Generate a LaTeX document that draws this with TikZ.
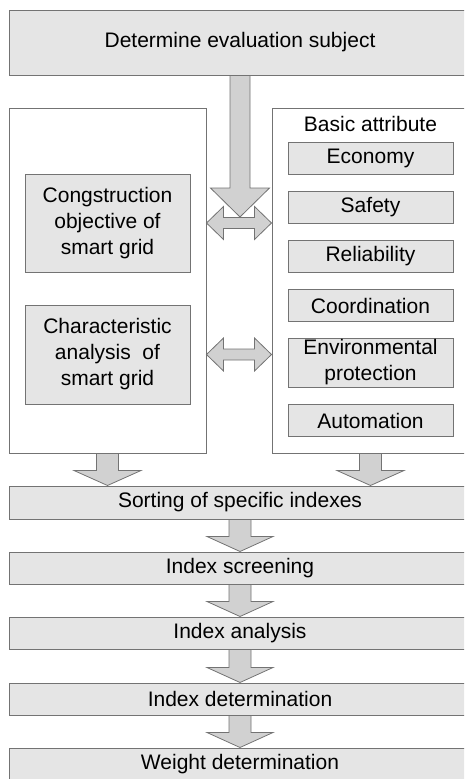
\documentclass[tikz,border=0pt]{standalone}
\usepackage{fontspec}
\setmainfont{Liberation Sans}
\usepackage{tikz}
\usetikzlibrary{positioning, calc}
\definecolor{boxfill}{gray}{0.9}
\definecolor{arrfill}{gray}{0.82}
\definecolor{edgegray}{gray}{0.45}

% vertical block arrow: start, end, shaft half width, head half width, head length
\newcommand{\downfat}[5]{%
  \draw[fatarrow] let \p1=(#1), \p2=(#2) in
    (\x1-#3,\y1) -- (\x1-#3,\y2+#5) -- (\x1-#4,\y2+#5) -- (\x1,\y2)
    -- (\x1+#4,\y2+#5) -- (\x1+#3,\y2+#5) -- (\x1+#3,\y1) -- cycle;}
% horizontal two-headed block arrow: left end, right end, shaft half, head half, head length
\newcommand{\twinfat}[5]{%
  \draw[fatarrow] let \p1=(#1), \p2=(#2) in
    (\x1,\y1) -- (\x1+#5,\y1+#4) -- (\x1+#5,\y1+#3) -- (\x2-#5,\y1+#3)
    -- (\x2-#5,\y1+#4) -- (\x2,\y1) -- (\x2-#5,\y1-#4) -- (\x2-#5,\y1-#3)
    -- (\x1+#5,\y1-#3) -- (\x1+#5,\y1-#4) -- cycle;}

\begin{document}
\begin{tikzpicture}[
        x=1pt, y=-1pt,
        font=\fontsize{21}{26}\selectfont,
        box/.style={rectangle, draw=edgegray, fill=boxfill, line width=1pt, inner sep=0pt, align=center},
        frame/.style={rectangle, draw=edgegray, fill=white, line width=1pt, minimum width=197pt, minimum height=345pt},
        wide/.style={box, minimum width=462pt},
        attr/.style={box, minimum width=165pt, minimum height=32pt},
        fatarrow/.style={draw=edgegray, fill=arrfill, line width=0.8pt, line join=miter}
    ]
        \useasboundingbox (0,0) rectangle (464,779);
        \clip (0,0) rectangle (464,779);

        % Top
        \node[wide, minimum height=65pt] (subj) at (240,42.5) {Determine evaluation subject};

        % Containers
        \node[frame] (lframe) at (107.5,280.5) {};
        \node[frame] (rframe) at (370.5,280.5) {};

        % Left side
        \node[box, minimum width=165pt, minimum height=98pt] (cons) at (107.5,223) {Congstruction\\objective of\\smart grid};
        \node[box, minimum width=165pt, minimum height=99pt] (chara) at (107.5,354.5) {Characteristic\\analysis~ of\\smart grid};

        % Right side
        \node (basic) at (370.5,124) {Basic attribute};
        \node[attr] (econ) at (370.5,158) {Economy};
        \node[attr] (safe) at (370.5,207) {Safety};
        \node[attr] (reli) at (370.5,256.5) {Reliability};
        \node[attr] (coor) at (370.5,305.5) {Coordination};
        \node[attr, minimum height=49pt] (envi) at (370.5,362.5) {Environmental\\protection};
        \node[attr] (auto) at (370.5,420.5) {Automation};

        % Index steps
        \node[wide, minimum height=33pt] (sort) at (240,502.5) {Sorting of specific indexes};
        \node[wide, minimum height=32pt] (screen) at (240,568) {Index screening};
        \node[wide, minimum height=32pt] (anal) at (240,633) {Index analysis};
        \node[wide, minimum height=32pt] (deter) at (240,699) {Index determination};
        \node[wide, minimum height=33pt] (weight) at (240,764.5) {Weight determination};

        % Connections
        \twinfat{lframe.east |- cons}{rframe.west |- cons}{5.5pt}{16.5pt}{17pt}
        \twinfat{lframe.east |- chara}{rframe.west |- chara}{5.5pt}{16.5pt}{17pt}
        \coordinate (dtip) at (240,217);
        \downfat{subj.south}{dtip}{10pt}{29.5pt}{29pt}
        \downfat{lframe.south}{sort.north -| lframe}{11pt}{33.5pt}{15pt}
        \downfat{rframe.south}{sort.north -| rframe}{11pt}{33.5pt}{15pt}
        \downfat{sort.south}{screen.north}{11pt}{33pt}{15pt}
        \downfat{screen.south}{anal.north}{11pt}{33pt}{15pt}
        \downfat{anal.south}{deter.north}{11pt}{33pt}{15pt}
        \downfat{deter.south}{weight.north}{11pt}{33pt}{15pt}
    \end{tikzpicture}
\end{document}
